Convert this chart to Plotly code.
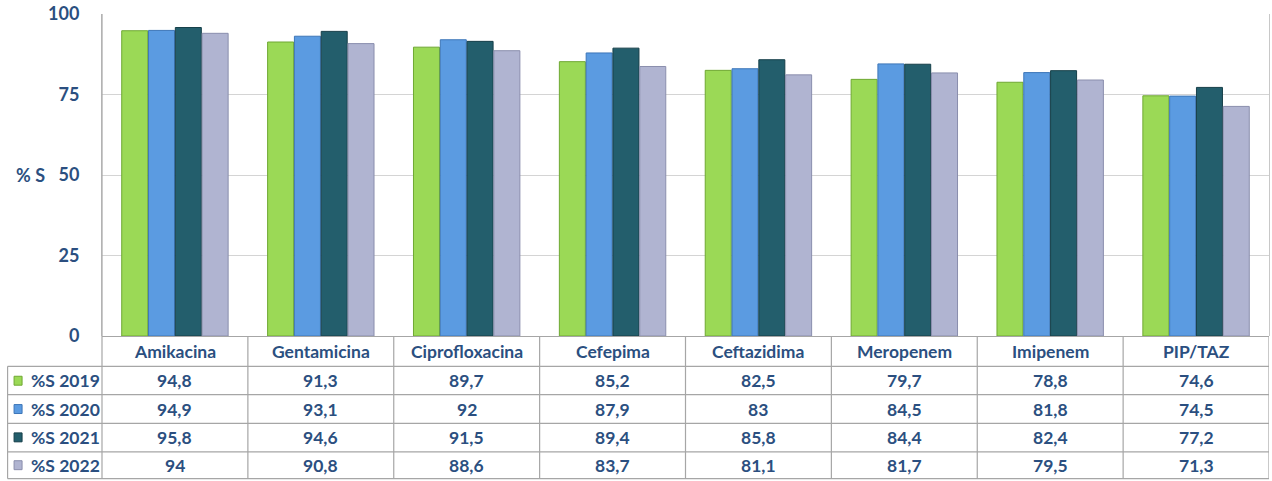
import plotly.graph_objects as go

categories = ["Amikacina", "Gentamicina", "Ciprofloxacina", "Cefepima",
              "Ceftazidima", "Meropenem", "Imipenem", "PIP/TAZ"]
series_names = ["%S 2019", "%S 2020", "%S 2021", "%S 2022"]
s2019 = [94.8, 91.3, 89.7, 85.2, 82.5, 79.7, 78.8, 74.6]
s2020 = [94.9, 93.1, 92, 87.9, 83, 84.5, 81.8, 74.5]
s2021 = [95.8, 94.6, 91.5, 89.4, 85.8, 84.4, 82.4, 77.2]
s2022 = [94, 90.8, 88.6, 83.7, 81.1, 81.7, 79.5, 71.3]
y_ticks = [0, 25, 50, 75, 100]

series_values = [s2019, s2020, s2021, s2022]
colors = ["#9BD956", "#5B9BE1", "#235E6C", "#B0B4D1"]
edge_colors = ["#6FA832", "#3D76B8", "#163F49", "#8A8EAD"]
text_color = "#2B4F80"
line_color = "#A6A6A6"
FONT = "Lato"
FS = 17.5

W, H = 1272, 481
L, R, T, B = 102, 2, 12, 145
plot_h = H - T - B
plot_w = W - L - R


def py(p):
    """page pixel row -> paper y"""
    return (H - B - p) / plot_h


def px(p):
    """page pixel column -> paper x"""
    return (p - L) / plot_w


fig = go.Figure()
for name, vals, c, ec in zip(series_names, series_values, colors, edge_colors):
    fig.add_trace(go.Bar(
        name=name, x=categories, y=vals,
        marker=dict(color=c, line=dict(color=ec, width=1)),
        showlegend=False,
    ))

shapes = []
annotations = []

row_lines = [336.5, 366.5, 395, 424, 452.5, 479.5]
for i, yl in enumerate(row_lines):
    x0 = 0 if i == 0 else px(7.5)
    shapes.append(dict(type="line", xref="paper", yref="paper",
                       x0=x0, x1=1, y0=py(yl), y1=py(yl),
                       line=dict(color=line_color, width=1.2)))
shapes.append(dict(type="line", xref="paper", yref="paper",
                   x0=px(7.5), x1=px(7.5), y0=py(366.5), y1=py(479.5),
                   line=dict(color=line_color, width=1.2)))
shapes.append(dict(type="line", xref="paper", yref="paper",
                   x0=0, x1=0, y0=1, y1=py(479.5),
                   line=dict(color=line_color, width=1.2)))
for i in range(1, len(categories) + 1):
    shapes.append(dict(type="line", xref="x", yref="paper",
                       x0=i - 0.5, x1=i - 0.5, y0=0, y1=py(479.5),
                       line=dict(color=line_color, width=1.2)))

for cat in categories:
    annotations.append(dict(x=cat, xref="x", y=py(352), yref="paper",
                            xanchor="center", yanchor="middle",
                            text=cat, showarrow=False,
                            font=dict(family=FONT, size=FS, color=text_color,
                                      weight="bold")))

row_centers = [381, 409.5, 438, 466]
for r, (name, vals, c, ec) in enumerate(zip(series_names, series_values, colors, edge_colors)):
    yc = row_centers[r]
    shapes.append(dict(type="rect", xref="paper", yref="paper",
                       x0=px(14), x1=px(22), y0=py(yc - 4.5), y1=py(yc + 4.5),
                       fillcolor=c, line=dict(color=ec, width=1)))
    annotations.append(dict(x=px(29), xref="paper", y=py(yc), yref="paper",
                            xanchor="left", yanchor="middle",
                            text=name, showarrow=False,
                            font=dict(family=FONT, size=FS, color=text_color,
                                      weight="bold")))
    for cat, v in zip(categories, vals):
        annotations.append(dict(x=cat, xref="x", y=py(yc), yref="paper",
                                xanchor="center", yanchor="middle",
                                text=f"{v:g}".replace(".", ","), showarrow=False,
                                font=dict(family=FONT, size=FS, color=text_color,
                                          weight="bold")))

annotations.append(dict(x=px(47), xref="paper", y=50, yref="y",
                        xanchor="right", yanchor="middle",
                        text="% S", showarrow=False,
                        font=dict(family=FONT, size=18, color=text_color,
                                  weight="bold")))

fig.update_layout(
    width=W, height=H,
    margin=dict(l=L, r=R, t=T, b=B),
    paper_bgcolor="white", plot_bgcolor="white",
    barmode="group", bargap=0.265, bargroupgap=0.03,
    shapes=shapes, annotations=annotations,
    xaxis=dict(showticklabels=False, showgrid=False, zeroline=False,
               showline=False, range=[-0.5, len(categories) - 0.5]),
    yaxis=dict(range=[0, 100], tickvals=y_ticks, showgrid=True,
               gridcolor="#D4D4D4", gridwidth=1.2, zeroline=False,
               showline=True, linecolor="#C8C8C8", mirror=True,
               ticks="outside", ticklen=18, tickcolor="rgba(0,0,0,0)",
               ticklabeloverflow="allow",
               tickfont=dict(family=FONT, size=18, color=text_color,
                             weight="bold")),
    font=dict(family=FONT),
)

fig.write_html("out.html",
               config={"displayModeBar": False},
               post_script="document.body.style.margin='0';"
                           "document.body.style.overflow='hidden';")
